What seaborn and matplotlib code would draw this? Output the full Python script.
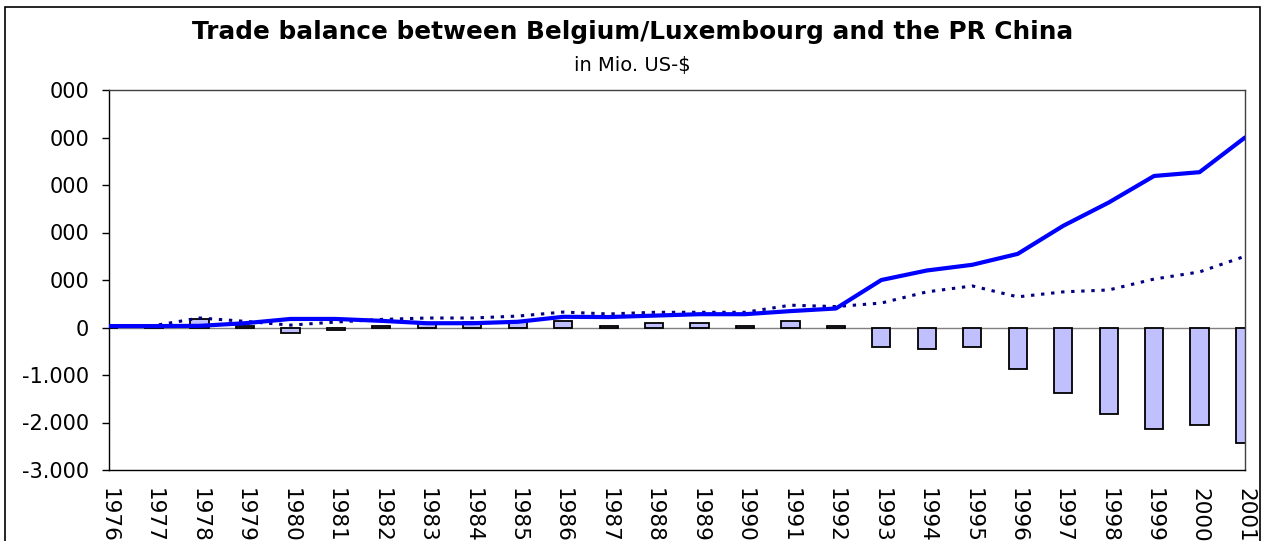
import numpy as np
import matplotlib
matplotlib.use("Agg")
import matplotlib.pyplot as plt
from matplotlib.patches import Rectangle
import seaborn as sns

# ===============================
# DATA (Mio. US-$)
# ===============================
years = [str(y) for y in range(1976, 2002)]

# imports from China (solid blue line)
imports = [30, 30, 35, 90, 180, 180, 140, 90, 90, 120, 225, 220, 250,
           280, 280, 345, 400, 1000, 1200, 1320, 1550, 2140, 2630, 3190,
           3270, 4000]

# exports to China (dotted navy line)
exports = [20, 40, 200, 130, 50, 115, 170, 200, 200, 240, 325, 285, 320,
           320, 320, 470, 440, 515, 750, 875, 645, 750, 790, 1020, 1170,
           1500]

# trade balance (bars)
balance = [-10, 10, 170, 40, -110, -50, 30, 105, 120, 110, 130, 30, 90,
           90, 30, 135, 30, -420, -460, -415, -870, -1370, -1825, -2140,
           -2050, -2425]

y_ticks = [-3000, -2000, -1000, 0, 1000, 2000, 3000, 4000, 5000]
y_tick_labels = ["-3.000", "-2.000", "-1.000", "0", "000", "000", "000",
                 "000", "000"]

title = "Trade balance between Belgium/Luxembourg and the PR China"
subtitle = "in Mio. US-$"

# ===============================
# PLOT
# ===============================
sns.set_style("white")
plt.rcParams['font.family'] = ['DejaVu Sans']
plt.rcParams['text.color'] = 'black'
plt.rcParams['xtick.color'] = 'black'
plt.rcParams['ytick.color'] = 'black'

W, H = 1265, 541
fig = plt.figure(figsize=(W / 100, H / 100), dpi=100)
ax = fig.add_axes([108.6 / W, 1 - 470 / H, (1245 - 108.6) / W, (470 - 90) / H])

pos = np.arange(len(years))

sns.barplot(x=pos, y=balance, native_scale=True, width=0.4,
            color="#C0C0FF", saturation=1, edgecolor="black",
            linewidth=1.3, ax=ax, zorder=2)
ax.axhline(0, color="#808080", lw=1, zorder=1)
sns.lineplot(x=pos, y=exports, color="#000080", lw=2.2,
             linestyle=(0, (1.1, 2.2)), ax=ax, zorder=3)
sns.lineplot(x=pos, y=imports, color="#0000FF", lw=3, ax=ax, zorder=4)

ax.set_xlim(0, len(years) - 1)
ax.set_ylim(-3000, 5000)
ax.set_yticks(y_ticks)
ax.set_yticklabels(y_tick_labels, fontsize=15)
ax.set_xticks(pos)
ax.set_xticklabels(years, rotation=270, fontsize=15.5, va="top")
ax.tick_params(axis="y", direction="out", length=5, width=1, pad=9,
               color="black", left=True)
ax.tick_params(axis="x", length=0, pad=13)
ax.set_xlabel("")
ax.set_ylabel("")
for side, sp in ax.spines.items():
    sp.set_visible(True)
    sp.set_linewidth(1)
    sp.set_color("black" if side in ("left", "bottom") else "#404040")

fig.text(0.5, 1 - 39.5 / H, title, ha="center", va="baseline",
         fontsize=17.8, fontweight="bold", color="black")
fig.text(0.5, 1 - 71 / H, subtitle, ha="center", va="baseline",
         fontsize=14, color="black")

# outer chart frame
fig.add_artist(Rectangle((5 / W, -0.05), (1260 - 5) / W, 1 - 7 / H + 0.05,
                         transform=fig.transFigure, fill=False,
                         edgecolor="black", lw=1.2))

fig.savefig("out.png", dpi=100)
plt.close(fig)
